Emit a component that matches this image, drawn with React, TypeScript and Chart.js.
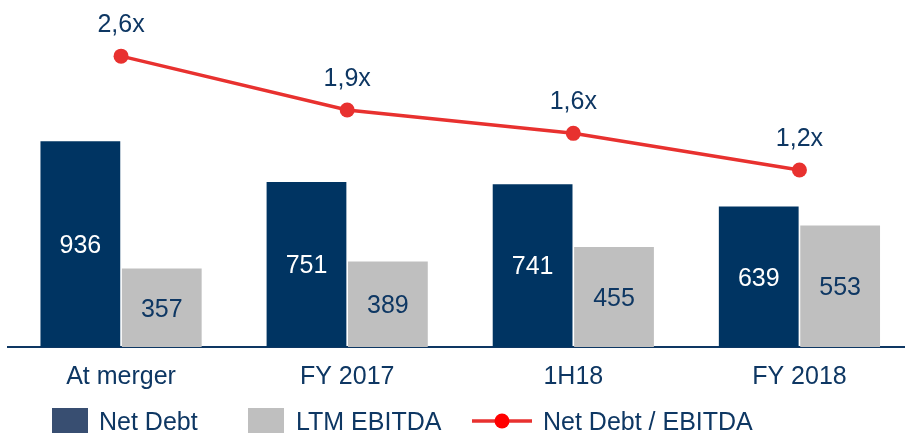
import React, { useEffect, useRef } from "react";
import { Chart, registerables } from "chart.js";

Chart.register(...registerables);

const categories = ["At merger", "FY 2017", "1H18", "FY 2018"];
const netDebt = [936, 751, 741, 639];
const ltmEbitda = [357, 389, 455, 553];
const leverage = [2.62, 1.93, 1.63, 1.16];
const seriesNames = ["Net Debt", "LTM EBITDA", "Net Debt / EBITDA"];

const NAVY = "#003462";
const GRAY = "#BFBFBF";
const RED = "#E8312F";
const TEXT = "#0E3763";
const LEGEND_NAVY = "#384E71";
const FONT = "'Liberation Sans', Arial, sans-serif";
const FS = 25;

const valueLabels = {
  id: "valueLabels",
  afterDatasetsDraw(chart: any) {
    const ctx = chart.ctx;
    ctx.save();
    ctx.font = `${FS}px ${FONT}`;
    ctx.textAlign = "center";
    ctx.textBaseline = "middle";
    chart.data.datasets.forEach((ds: any, i: number) => {
      const meta = chart.getDatasetMeta(i);
      meta.data.forEach((el: any, j: number) => {
        const v = ds.data[j];
        if (ds.type === "line") {
          ctx.fillStyle = TEXT;
          ctx.fillText(v.toFixed(1).replace(".", ",") + "x", el.x, el.y - 31);
        } else {
          ctx.fillStyle = ds.label === seriesNames[0] ? "#FFFFFF" : TEXT;
          ctx.fillText(String(v), el.x, (el.y + el.base) / 2 + 2);
        }
      });
    });
    ctx.restore();
  },
};

const customLegend = {
  id: "customLegend",
  afterDraw(chart: any) {
    const ctx = chart.ctx;
    const cy = 421;
    ctx.save();
    ctx.font = `${FS}px ${FONT}`;
    ctx.textAlign = "left";
    ctx.textBaseline = "middle";
    ctx.fillStyle = LEGEND_NAVY;
    ctx.fillRect(52, 408, 36, 25);
    ctx.fillStyle = TEXT;
    ctx.fillText(seriesNames[0], 99, cy + 2);
    ctx.fillStyle = GRAY;
    ctx.fillRect(248, 408, 36, 25);
    ctx.fillStyle = TEXT;
    ctx.fillText(seriesNames[1], 296, cy + 2);
    ctx.strokeStyle = RED;
    ctx.lineWidth = 3.5;
    ctx.beginPath();
    ctx.moveTo(472, cy);
    ctx.lineTo(532, cy);
    ctx.stroke();
    ctx.fillStyle = "#FF0000";
    ctx.beginPath();
    ctx.arc(502, cy, 7.5, 0, Math.PI * 2);
    ctx.fill();
    ctx.fillStyle = TEXT;
    ctx.fillText(seriesNames[2], 543, cy + 2);
    ctx.restore();
  },
};

export default function App() {
  const ref = useRef<HTMLCanvasElement | null>(null);

  useEffect(() => {
    if (!ref.current) return;
    const chart = new Chart(ref.current, {
      type: "bar",
      data: {
        labels: categories,
        datasets: [
          {
            type: "line",
            label: seriesNames[2],
            data: leverage,
            yAxisID: "y1",
            borderColor: RED,
            backgroundColor: RED,
            borderWidth: 3.5,
            pointRadius: 7.5,
            pointBackgroundColor: RED,
            pointBorderWidth: 0,
            tension: 0,
            order: 0,
          } as any,
          {
            type: "bar",
            label: seriesNames[0],
            data: netDebt,
            yAxisID: "y",
            backgroundColor: NAVY,
            categoryPercentage: 0.72,
            barPercentage: 0.98,
            order: 1,
          },
          {
            type: "bar",
            label: seriesNames[1],
            data: ltmEbitda,
            yAxisID: "y",
            backgroundColor: GRAY,
            categoryPercentage: 0.72,
            barPercentage: 0.98,
            order: 1,
          },
        ],
      },
      options: {
        responsive: false,
        animation: false,
        devicePixelRatio: 1,
        layout: { padding: { left: 8, right: 6.7, top: 0, bottom: 26 } },
        plugins: { legend: { display: false }, tooltip: { enabled: false } },
        scales: {
          x: {
            grid: { display: false, drawTicks: false },
            border: { display: true, color: "#0E3763", width: 2 },
            ticks: {
              color: TEXT,
              font: { family: FONT, size: FS },
              padding: 15,
              maxRotation: 0,
            },
          },
          y: { display: false, min: 0, max: 1545 },
          y1: { display: false, min: -1.11, max: 3.244 },
        },
      },
      plugins: [valueLabels, customLegend],
    });
    return () => chart.destroy();
  }, []);

  return (
    <div
      style={{
        position: "absolute",
        left: 0,
        top: 0,
        width: 905,
        height: 433,
        overflow: "hidden",
        background: "#FFFFFF",
      }}
    >
      <canvas ref={ref} width={920} height={433} style={{ display: "block" }} />
    </div>
  );
}
